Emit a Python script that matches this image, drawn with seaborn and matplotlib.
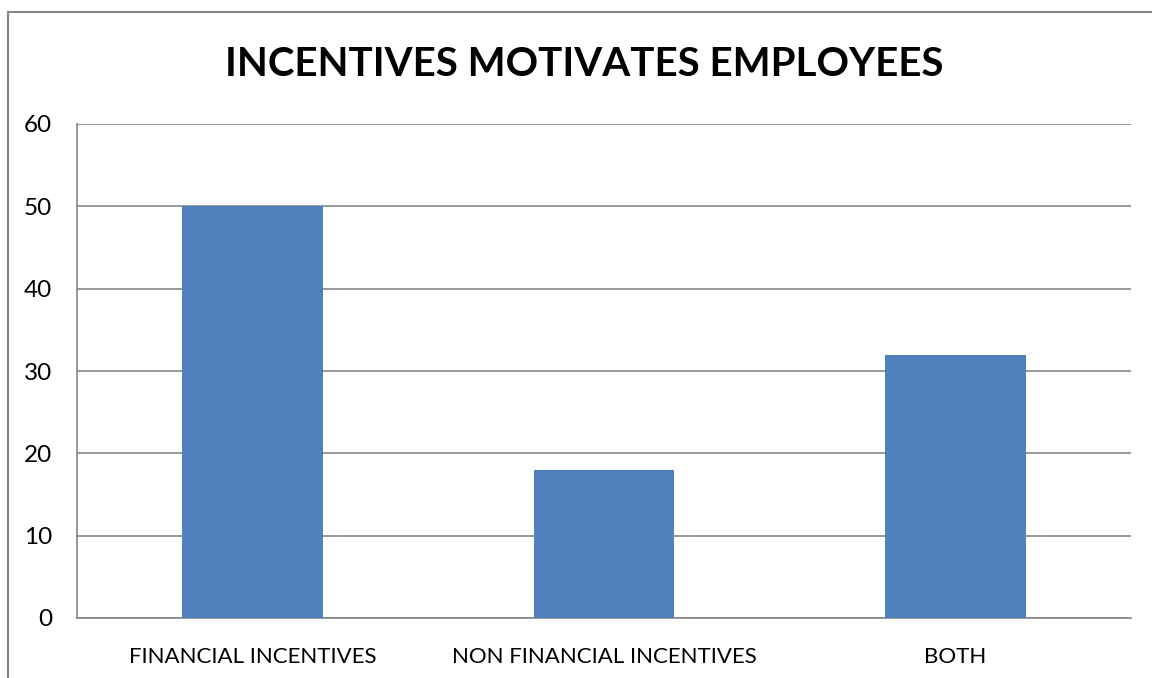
import pandas as pd
import numpy as np
import matplotlib.pyplot as plt
import seaborn as sns
from matplotlib.patches import Rectangle

# chart data
categories = ['FINANCIAL INCENTIVES', 'NON FINANCIAL INCENTIVES', 'BOTH']
values = [50, 18, 32]
yticks = [0, 10, 20, 30, 40, 50, 60]

df = pd.DataFrame({'category': categories, 'value': values})

sns.set_style('white')
plt.rcParams['font.family'] = ['Lato', 'DejaVu Sans']
plt.rcParams['text.color'] = 'black'
plt.rcParams['xtick.color'] = 'black'
plt.rcParams['ytick.color'] = 'black'

fig = plt.figure(figsize=(11.52, 6.78), dpi=100)
ax = fig.add_axes([77/1152, 1 - 618/678, (1131-77)/1152, (618-124)/678])

grid_col = '#868686'
sns.barplot(data=df, x='category', y='value', color='#4F81BD', width=0.4,
            saturation=1, linewidth=0, ax=ax, zorder=3)

ax.set_ylim(0, 60)
ax.set_xlim(-0.5, 2.5)
ax.set_yticks(yticks)
ax.set_yticklabels([str(t) for t in yticks], fontsize=17.5)
ax.yaxis.grid(True, color=grid_col, linewidth=1.2, zorder=0)
ax.set_axisbelow(True)
ax.set_xlabel('')
ax.set_ylabel('')

# category ticks sit between the bars, labels in the middle
ax.set_xticks([-0.5, 0.5, 1.5, 2.5])
ax.set_xticklabels([])
ax.set_xticks([0, 1, 2], minor=True)
ax.set_xticklabels(categories, minor=True, fontsize=16)
ax.tick_params(axis='x', which='major', length=8, width=1.2, color=grid_col, direction='out')
ax.tick_params(axis='x', which='minor', length=0, pad=21)
ax.tick_params(axis='y', length=8, width=1.2, color=grid_col, labelcolor='black',
               direction='out', pad=10)

for side in ['top', 'right']:
    ax.spines[side].set_visible(False)
for side in ['left', 'bottom']:
    ax.spines[side].set_color(grid_col)
    ax.spines[side].set_linewidth(1.2)

fig.text(584/1152, 1 - 65/678, 'INCENTIVES MOTIVATES EMPLOYEES', ha='center', va='center',
         fontsize=29, fontweight='bold', color='black')

# outer chart frame (cut off at right and bottom)
fig.patches.append(Rectangle((8/1152, -0.1), 1.2, 1.1 - 12/678, transform=fig.transFigure,
                             fill=False, edgecolor=grid_col, linewidth=1.5))

fig.savefig('out.png', dpi=100)
